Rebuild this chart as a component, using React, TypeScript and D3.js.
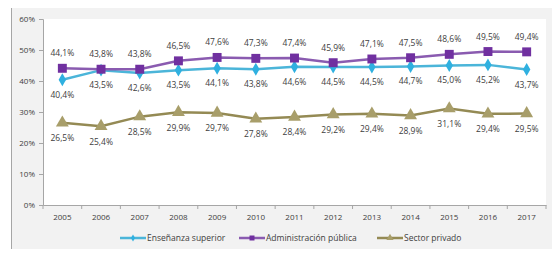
import { useEffect, useRef } from 'react';
import * as d3 from 'd3';

// datos
const years = ['2005', '2006', '2007', '2008', '2009', '2010', '2011', '2012', '2013', '2014', '2015', '2016', '2017'];
const ensenanza = [40.4, 43.5, 42.6, 43.5, 44.1, 43.8, 44.6, 44.5, 44.5, 44.7, 45.0, 45.2, 43.7];
const administracion = [44.1, 43.8, 43.8, 46.5, 47.6, 47.3, 47.4, 45.9, 47.1, 47.5, 48.6, 49.5, 49.4];
const privado = [26.5, 25.4, 28.5, 29.9, 29.7, 27.8, 28.4, 29.2, 29.4, 28.9, 31.1, 29.4, 29.5];
const yTicks = [0, 10, 20, 30, 40, 50, 60];

const series = [
  { name: 'Enseñanza superior', values: ensenanza, line: '#4bb5d9', marker: '#2fb0e0', shape: 'diamond', labelDy: 15 },
  { name: 'Administración pública', values: administracion, line: '#8a5bb0', marker: '#7030a0', shape: 'square', labelDy: -15 },
  { name: 'Sector privado', values: privado, line: '#948a54', marker: '#a89e6a', shape: 'triangle', labelDy: 15.5 },
];

const fmt = (v: number) => v.toFixed(1).replace('.', ',') + '%';

export default function App() {
  const ref = useRef<SVGSVGElement | null>(null);

  useEffect(() => {
    const svg = d3.select(ref.current);
    svg.selectAll('*').remove();
    const W = 560, H = 257;
    const margin = { left: 43, right: 14, top: 19, bottom: 52 };

    // sombra y marco exterior
    svg.append('rect').attr('x', 13).attr('y', 8).attr('width', 545).attr('height', 246)
      .attr('fill', '#bfbfbf');
    svg.append('rect').attr('x', 11.5).attr('y', 6.5).attr('width', 545).attr('height', 246)
      .attr('fill', '#f2f2f2').attr('stroke', '#a6a6a6');

    const x = d3.scaleBand().domain(years).range([margin.left, W - margin.right]).padding(0);
    const y = d3.scaleLinear().domain([0, 60]).range([H - margin.bottom, margin.top]);
    const cx = (d: string) => (x(d) as number) + x.bandwidth() / 2;

    svg.append('rect').attr('x', margin.left).attr('y', margin.top)
      .attr('width', W - margin.right - margin.left).attr('height', y(0) - margin.top).attr('fill', '#ffffff');

    const font = "'Open Sans', 'Liberation Sans', sans-serif";

    const yAxis = svg.append('g').attr('transform', `translate(${margin.left},0)`)
      .call(d3.axisLeft(y).tickValues(yTicks).tickSize(4).tickFormat(d => `${d}%`));
    yAxis.select('.domain').attr('stroke', '#a6a6a6');
    yAxis.selectAll('.tick line').attr('stroke', '#a6a6a6');
    yAxis.selectAll('.tick text').attr('fill', '#404040').style('font-size', '8px').style('font-family', font).attr('x', -8);

    const xAxis = svg.append('g').attr('transform', `translate(0,${y(0)})`)
      .call(d3.axisBottom(x).tickSize(0).tickSizeOuter(0));
    xAxis.select('.domain').attr('stroke', '#a6a6a6');
    xAxis.selectAll('.tick text').attr('fill', '#404040').style('font-size', '8px').style('font-family', font).attr('dy', '1.45em');
    // marcas entre categorías
    svg.append('g').selectAll('line').data(years.concat(['end']))
      .enter().append('line')
      .attr('x1', (d, i) => margin.left + i * x.bandwidth())
      .attr('x2', (d, i) => margin.left + i * x.bandwidth())
      .attr('y1', y(0)).attr('y2', y(0) + 4).attr('stroke', '#a6a6a6');

    const line = d3.line<number>().x((d, i) => cx(years[i])).y(d => y(d));

    const symbolOf = (shape: string, size: number) => {
      if (shape === 'diamond') return d3.symbol().type(d3.symbolDiamond).size(size * 0.6)();
      if (shape === 'square') return d3.symbol().type(d3.symbolSquare).size(size)();
      return d3.symbol().type(d3.symbolTriangle).size(size * 0.9)();
    };

    series.forEach(s => {
      svg.append('path').datum(s.values).attr('d', line).attr('fill', 'none')
        .attr('stroke', s.line).attr('stroke-width', 2.5);
      svg.append('g').selectAll('path').data(s.values).enter().append('path')
        .attr('d', symbolOf(s.shape, 80))
        .attr('transform', (d, i) => `translate(${cx(years[i])},${y(d)})`)
        .attr('fill', s.marker);
      svg.append('g').selectAll('text').data(s.values).enter().append('text')
        .attr('x', (d, i) => cx(years[i]))
        .attr('y', d => y(d) + s.labelDy)
        .attr('dy', '0.35em')
        .attr('text-anchor', 'middle')
        .style('font-size', '8.5px').style('font-family', font).attr('fill', '#404040')
        .text(d => fmt(d));
    });

    // leyenda
    const legendX = [120, 239, 377];
    const legendY = 238;
    series.forEach((s, i) => {
      const g = svg.append('g').attr('transform', `translate(${legendX[i]},${legendY})`);
      g.append('line').attr('x1', 0).attr('x2', 26).attr('y1', 0).attr('y2', 0)
        .attr('stroke', s.line).attr('stroke-width', 2.5);
      g.append('path').attr('d', symbolOf(s.shape, 25)).attr('transform', 'translate(13,0)').attr('fill', s.marker);
      g.append('text').attr('x', 27).attr('y', 0).attr('dy', '0.35em')
        .style('font-size', '8.5px').style('font-family', font).attr('fill', '#404040').text(s.name);
    });
  }, []);

  return <svg ref={ref} width={560} height={257} style={{ display: 'block', margin: '-8px' }} />;
}
